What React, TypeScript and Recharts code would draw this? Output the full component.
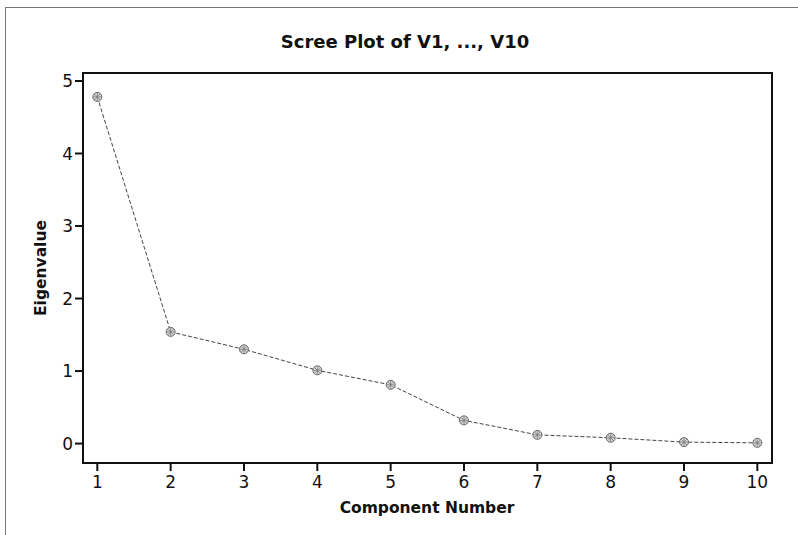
import { LineChart, Line, XAxis, YAxis, Label, ReferenceArea } from 'recharts'

const components = [1, 2, 3, 4, 5, 6, 7, 8, 9, 10]
const eigenvalues = [4.78, 1.54, 1.3, 1.01, 0.81, 0.32, 0.12, 0.08, 0.02, 0.01]
const xTicks = [1, 2, 3, 4, 5, 6, 7, 8, 9, 10]
const yTicks = [0, 1, 2, 3, 4, 5]
const xDomain = [0.805, 10.2]
const yDomain = [-0.268, 5.11]

const data = components.map((c, i) => ({ component: c, eigenvalue: eigenvalues[i] }))

const font = '"DejaVu Sans", Verdana, sans-serif'

function StarDot({ cx, cy }: { cx?: number; cy?: number }) {
  if (cx == null || cy == null) return null
  return (
    <g>
      <circle cx={cx} cy={cy} r={4.5} fill="#d8d8d8" stroke="#666" strokeWidth={1} />
      <path
        d={`M${cx - 4},${cy} L${cx + 4},${cy} M${cx},${cy - 4} L${cx},${cy + 4} M${cx - 3},${cy - 3} L${cx + 3},${cy + 3} M${cx - 3},${cy + 3} L${cx + 3},${cy - 3}`}
        stroke="#777"
        strokeWidth={0.8}
      />
    </g>
  )
}

export default function App() {
  return (
    <div style={{ position: 'absolute', left: 0, top: 0, width: 798, height: 535, background: '#fff', fontFamily: font }}>
      <div style={{ position: 'absolute', left: 5, top: 7, right: 0, bottom: 0, borderTop: '1px solid #777', borderLeft: '1px solid #777' }} />
      <div style={{ position: 'absolute', left: 0, width: 810, top: 31, textAlign: 'center', fontWeight: 'bold', fontSize: 18, color: '#111' }}>
        Scree Plot of V1, ..., V10
      </div>
      <LineChart
        width={798}
        height={535}
        data={data}
        margin={{ top: 73, right: 26, bottom: 42, left: 0 }}
        style={{ position: 'absolute', left: 0, top: 0 }}
      >
        <XAxis
          dataKey="component"
          type="number"
          domain={xDomain}
          ticks={xTicks}
          allowDataOverflow
          height={30}
          stroke="#111"
          strokeWidth={2}
          tickSize={8}
          tickMargin={5}
          tick={{ fontSize: 17, fill: '#111', fontFamily: font }}
        >
          <Label
            content={() => (
              <text x={427} y={513} textAnchor="middle" fontWeight="bold" fontSize={15.5} fill="#111" fontFamily={font}>
                Component Number
              </text>
            )}
          />
        </XAxis>
        <YAxis
          type="number"
          domain={yDomain}
          ticks={yTicks}
          allowDataOverflow
          width={83}
          stroke="#111"
          strokeWidth={2}
          tickSize={8}
          tickMargin={2}
          tick={{ fontSize: 17, fill: '#111', fontFamily: font }}
        >
          <Label
            content={() => (
              <text x={46} y={268} transform="rotate(-90 46 268)" textAnchor="middle" fontWeight="bold" fontSize={15.5} fill="#111" fontFamily={font}>
                Eigenvalue
              </text>
            )}
          />
        </YAxis>
        <ReferenceArea
          x1={xDomain[0]}
          x2={xDomain[1]}
          y1={yDomain[0]}
          y2={yDomain[1]}
          fill="none"
          stroke="#111"
          strokeWidth={2}
          ifOverflow="visible"
        />
        <Line
          dataKey="eigenvalue"
          type="linear"
          stroke="#444"
          strokeWidth={1}
          strokeDasharray="4 2"
          dot={<StarDot />}
          activeDot={false}
          isAnimationActive={false}
        />
      </LineChart>
    </div>
  )
}
